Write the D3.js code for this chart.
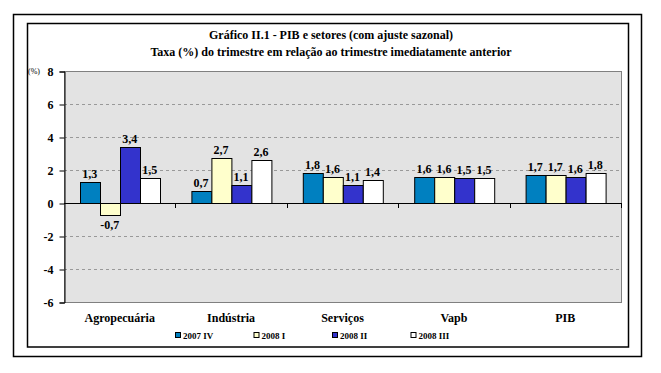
<!DOCTYPE html>
<html>
<head>
<meta charset="utf-8">
<script src="https://cdn.jsdelivr.net/npm/d3@7"></script>
<style>
  body { margin: 0; background: #fff; }
  text { font-family: "Liberation Serif", "Times New Roman", serif; font-weight: bold; fill: #000; }
</style>
</head>
<body>
<svg id="chart" width="661" height="373" font-family="Liberation Serif"></svg>
<script>
// ---- data ----
const categories = ["Agropecuária", "Indústria", "Serviços", "Vapb", "PIB"];
const seriesNames = ["2007.IV", "2008.I", "2008.II", "2008.III"];
const seriesLegend = ["2007 IV", "2008 I", "2008 II", "2008 III"];
const s2007IV  = [1.3, 0.7, 1.8, 1.6, 1.7];
const s2008I   = [-0.7, 2.7, 1.6, 1.6, 1.7];
const s2008II  = [3.4, 1.1, 1.1, 1.5, 1.6];
const s2008III = [1.5, 2.6, 1.4, 1.5, 1.8];
const yTicks = [-6, -4, -2, 0, 2, 4, 6, 8];
const colors = ["#0080C0", "#FFFFCC", "#3333CC", "#FFFFFF"];

const allSeries = [s2007IV, s2008I, s2008II, s2008III];
const fmt = v => d3.format(".1f")(v).replace("−", "-").replace(".", ",");

const svg = d3.select("#chart");
const plot = { left: 64, right: 621, top: 71, bottom: 302 };

// frames
svg.append("rect").attr("x", 13.5).attr("y", 14.5).attr("width", 628).attr("height", 342)
  .attr("fill", "none").attr("stroke", "#000").attr("stroke-width", 1.5);
svg.append("rect").attr("x", 27.5).attr("y", 23.5).attr("width", 601).attr("height", 323.5)
  .attr("fill", "#fff").attr("stroke", "#000").attr("stroke-width", 1.5);

// titles
svg.append("text").attr("x", 331).attr("y", 39).attr("text-anchor", "middle")
  .style("font-size", "12px").text("Gráfico II.1 - PIB  e setores (com ajuste sazonal)");
svg.append("text").attr("x", 331).attr("y", 56).attr("text-anchor", "middle")
  .style("font-size", "12px").text("Taxa (%) do trimestre em relação ao trimestre imediatamente anterior");

// scales
const y = d3.scaleLinear().domain([-6, 8]).range([plot.bottom, plot.top]);
const x0 = d3.scaleBand().domain(categories).range([plot.left, plot.right]);
const x1 = d3.scaleBand().domain(seriesNames).range([0, x0.bandwidth()])
  .paddingInner(0).paddingOuter(0.785);

// plot background
svg.append("rect")
  .attr("x", plot.left + 0.5).attr("y", plot.top + 0.5)
  .attr("width", plot.right - plot.left).attr("height", plot.bottom - plot.top)
  .attr("fill", "#E3E3E3").attr("stroke", "#808080").attr("stroke-width", 1);

// gridlines
svg.append("g").selectAll("line")
  .data(yTicks.filter(t => t !== 0 && t !== 8 && t !== -6))
  .join("line")
    .attr("x1", plot.left).attr("x2", plot.right)
    .attr("y1", d => Math.round(y(d)) + 0.5).attr("y2", d => Math.round(y(d)) + 0.5)
    .attr("stroke", "#999").attr("stroke-dasharray", "3,3");

// bars
const rows = categories.map((c, i) => ({ cat: c, vals: allSeries.map((s, k) => ({ key: seriesNames[k], k, v: s[i] })) }));
const groups = svg.append("g").selectAll("g")
  .data(rows).join("g")
  .attr("transform", d => `translate(${x0(d.cat)},0)`);

groups.selectAll("rect")
  .data(d => d.vals).join("rect")
    .attr("x", d => Math.round(x1(d.key)) + 0.5)
    .attr("y", d => Math.round(y(Math.max(0, d.v))) + 0.5)
    .attr("width", Math.round(x1.bandwidth()))
    .attr("height", d => Math.round(Math.abs(y(d.v) - y(0))))
    .attr("fill", d => colors[d.k])
    .attr("stroke", "#000").attr("stroke-width", 1);

groups.selectAll("text")
  .data(d => d.vals).join("text")
    .attr("x", d => x1(d.key) + x1.bandwidth() / 2)
    .attr("y", d => d.v >= 0 ? y(d.v) - 4 : y(d.v) + 14)
    .attr("text-anchor", "middle")
    .style("font-size", "12px")
    .text(d => fmt(d.v));

// zero line and category ticks
svg.append("line")
  .attr("x1", plot.left).attr("x2", plot.right)
  .attr("y1", Math.round(y(0)) + 0.5).attr("y2", Math.round(y(0)) + 0.5)
  .attr("stroke", "#000");
svg.append("g").selectAll("line")
  .data(categories.slice(1).concat(["end"]))
  .join("line")
    .attr("x1", d => d === "end" ? plot.right + 0.5 : Math.round(x0(d)) + 0.5)
    .attr("x2", d => d === "end" ? plot.right + 0.5 : Math.round(x0(d)) + 0.5)
    .attr("y1", Math.round(y(0))).attr("y2", Math.round(y(0)) + 5)
    .attr("stroke", "#000");

// y axis
const yAxis = svg.append("g")
  .attr("transform", `translate(${plot.left + 0.5},0.5)`)
  .call(d3.axisLeft(y).tickValues(yTicks).tickSize(5).tickPadding(6).tickFormat(d => d3.format("d")(d).replace("−", "-")));
yAxis.attr("font-family", null);
yAxis.select(".domain").attr("stroke", "#000");
yAxis.selectAll("text").style("font-size", "12px");

svg.append("text").attr("x", 28).attr("y", 74)
  .style("font-size", "8px").style("font-weight", "normal").text("(%)");

// category labels
svg.append("g").selectAll("text")
  .data(categories).join("text")
    .attr("x", d => x0(d) + x0.bandwidth() / 2)
    .attr("y", 322)
    .attr("text-anchor", "middle")
    .style("font-size", "12px")
    .text(d => d);

// legend
const legend = svg.append("g").selectAll("g")
  .data(seriesLegend).join("g")
  .attr("transform", (d, i) => `translate(${175 + i * 78.5},332)`);
legend.append("rect").attr("x", 0.5).attr("y", 0.5).attr("width", 5).attr("height", 5)
  .attr("fill", (d, i) => colors[i]).attr("stroke", "#000");
legend.append("text").attr("x", 8).attr("y", 6.5)
  .style("font-size", "9px").text(d => d);
</script>
</body>
</html>
